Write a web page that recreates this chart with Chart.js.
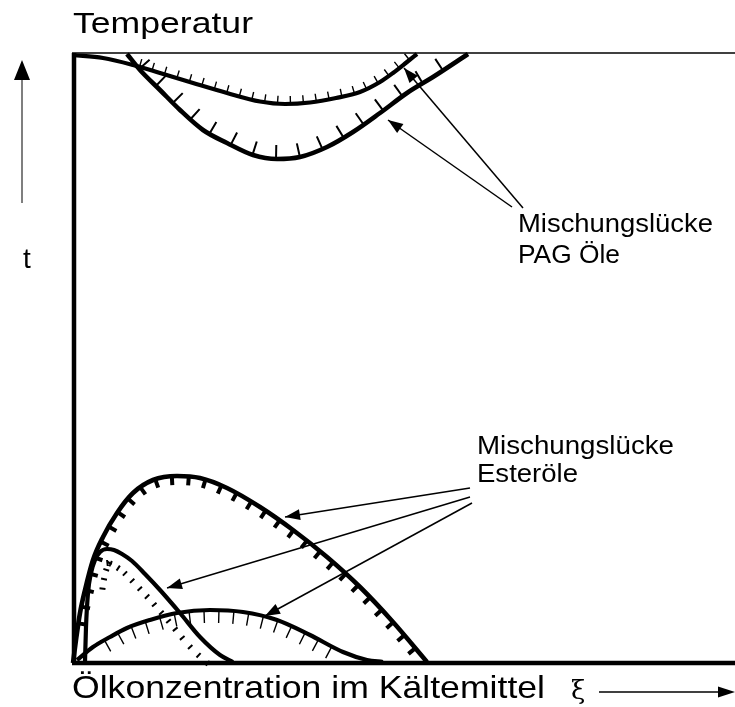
<!DOCTYPE html>
<html><head><meta charset="utf-8">
<script src="https://cdn.jsdelivr.net/npm/chart.js@4/dist/chart.umd.min.js"></script>
<style>html,body{margin:0;padding:0;background:#fff;overflow:hidden}canvas{display:block}</style>
</head><body>
<canvas id="c" width="735" height="707"></canvas>
<script>
// Schematic units: x = oil concentration (0..661), y = temperature (0..610)
const xMax = 661, yMax = 610;

// PAG oils – miscibility gap (upper region)
const pagUpperX = [-1, 29, 59, 86, 119, 153, 186, 211, 236, 262, 286, 306, 319, 333, 343];
const pagUpperY = [608, 605, 598, 590, 580, 570, 561.5, 559, 560.5, 565, 571, 581, 590, 601, 609];
const pagLowerX = [53, 66, 86, 106, 129, 153, 179, 203, 226, 253, 279, 306, 333, 359, 394];
const pagLowerY = [609, 593, 573, 553, 533, 520, 508, 504, 506, 516, 531, 550, 570, 586, 609];

// Ester oils – miscibility gap (lower region)
const esterBigX = [-1, 2, 6, 11, 19, 29, 43, 59, 79, 103, 126, 153, 186, 219, 253, 286, 319, 353];
const esterBigY = [0, 23, 50, 73, 103, 126, 150, 170, 183, 187, 185, 175, 156, 133, 106, 76, 41, 1];
const esterSmallX = [11, 12, 14, 17, 21, 26, 33, 40, 48, 58, 71, 86, 106, 126, 146, 159];
const esterSmallY = [1, 36, 70, 90, 103, 111, 114, 113, 109, 102, 89, 73, 50, 26, 8, 1];
const esterFlatX = [3, 19, 36, 53, 76, 103, 136, 169, 203, 236, 269, 293, 309];
const esterFlatY = [3, 16, 26, 35, 43, 50, 53, 51, 43, 28, 11, 3, 1];

// Annotation arrows [x1, y1, x2(tip), y2(tip)]
const pagArrows = [[449, 455, 330, 595], [438, 456, 314, 543]];
const esterArrows = [[396, 175, 211, 146], [396, 166, 93, 75], [398, 160, 191, 47]];

// Text
const yAxisTitle = "Temperatur";
const yAxisSymbol = "t";
const xAxisTitle = "Ölkonzentration im Kältemittel";
const xAxisSymbol = "ξ";
const pagLabel = ["Mischungslücke", "PAG Öle"];
const esterLabel = ["Mischungslücke", "Esteröle"];

function pts(xs, ys) { return xs.map((x, i) => ({x, y: ys[i]})); }

function curve(xs, ys, width, hatch) {
  return {data: pts(xs, ys), showLine: true, borderColor: '#000', borderWidth: width,
    pointRadius: 0, cubicInterpolationMode: 'monotone', fill: false, clip: false, hatch};
}
function straight(data, width, arrow) {
  return {data, showLine: true, borderColor: '#000', borderWidth: width, pointRadius: 0,
    tension: 0, fill: false, clip: false, arrowHead: arrow};
}

const datasets = [
  straight([{x: 0, y: 0}, {x: 0, y: yMax}], 4.5),
  straight([{x: -2, y: 0}, {x: xMax, y: 0}], 4.5),
  straight([{x: -2, y: yMax}, {x: xMax, y: yMax}], 1.6),
  curve(pagUpperX, pagUpperY, 4.2, {from: 62, to: 340, spacing: 13, len: 8, off: 0, width: 1.4, side: 1, phase: 4}),
  curve(pagLowerX, pagLowerY, 4.6, {from: 60, to: 385, spacing: 24, len: 14, off: 0, width: 2, side: 1, phase: 8}),
  curve(esterBigX, esterBigY, 4.6, {from: 3, to: 345, spacing: 17, len: 9, off: 0, width: 4, side: -1, phase: 10}),
  curve(esterSmallX, esterSmallY, 4.2, {from: 14, to: 150, spacing: 11, len: 6, off: 11, width: 2, side: -1, phase: 6}),
  curve(esterFlatX, esterFlatY, 4.2, {from: 25, to: 258, spacing: 15, len: 13, off: 0, width: 1.4, side: -1, phase: 6}),
];
pagArrows.concat(esterArrows).forEach(a => {
  datasets.push(straight([{x: a[0], y: a[1]}, {x: a[2], y: a[3]}], 1.5, true));
});

function samplePath(elems) {
  const out = [];
  for (let i = 0; i < elems.length - 1; i++) {
    const a = elems[i], b = elems[i + 1];
    const c1x = a.cp2x ?? a.x, c1y = a.cp2y ?? a.y, c2x = b.cp1x ?? b.x, c2y = b.cp1y ?? b.y;
    const n = 30;
    for (let k = 0; k < n; k++) {
      const t = k / n, u = 1 - t;
      out.push({
        x: u*u*u*a.x + 3*u*u*t*c1x + 3*u*t*t*c2x + t*t*t*b.x,
        y: u*u*u*a.y + 3*u*u*t*c1y + 3*u*t*t*c2y + t*t*t*b.y
      });
    }
  }
  const l = elems[elems.length - 1];
  out.push({x: l.x, y: l.y});
  return out;
}

function stretchText(ctx, txt, x, y, size, width, family) {
  ctx.font = size + 'px ' + (family || '"Liberation Sans", Arial, sans-serif');
  const w = ctx.measureText(txt).width;
  ctx.save();
  ctx.translate(x, y);
  if (width) ctx.scale(width / w, 1);
  ctx.fillText(txt, 0, 0);
  ctx.restore();
}

const decor = {
  id: 'decor',
  afterDatasetsDraw(chart) {
    const ctx = chart.ctx, xs = chart.scales.x, ca = chart.chartArea;
    ctx.save();
    ctx.strokeStyle = '#000'; ctx.fillStyle = '#000'; ctx.lineCap = 'butt';
    chart.data.datasets.forEach((ds, di) => {
      const meta = chart.getDatasetMeta(di);
      const el = meta.data;
      if (ds.hatch) {
        const h = ds.hatch;
        const fx = xs.getPixelForValue(h.from), tx = xs.getPixelForValue(h.to);
        const p = samplePath(el);
        let acc = 0, next = h.phase;
        ctx.lineWidth = h.width;
        ctx.beginPath();
        for (let i = 1; i < p.length; i++) {
          const dx = p[i].x - p[i-1].x, dy = p[i].y - p[i-1].y;
          const L = Math.hypot(dx, dy);
          if (L === 0) continue;
          const mx = (p[i].x + p[i-1].x) / 2;
          if (mx < fx || mx > tx) continue;
          while (acc + L >= next) {
            const t = (next - acc) / L;
            const px = p[i-1].x + dx * t, py = p[i-1].y + dy * t;
            const nx = h.side * dy / L, ny = -h.side * dx / L;
            ctx.moveTo(px + nx * h.off, py + ny * h.off);
            ctx.lineTo(px + nx * (h.off + h.len), py + ny * (h.off + h.len));
            next += h.spacing;
          }
          acc += L;
        }
        ctx.stroke();
      }
      if (ds.arrowHead) {
        const a = el[0], b = el[el.length - 1];
        const ang = Math.atan2(b.y - a.y, b.x - a.x);
        const hl = 15, hw = 5.5;
        ctx.beginPath();
        ctx.moveTo(b.x, b.y);
        ctx.lineTo(b.x - hl*Math.cos(ang) + hw*Math.sin(ang), b.y - hl*Math.sin(ang) - hw*Math.cos(ang));
        ctx.lineTo(b.x - hl*Math.cos(ang) - hw*Math.sin(ang), b.y - hl*Math.sin(ang) + hw*Math.cos(ang));
        ctx.closePath();
        ctx.fill();
      }
    });

    // axis direction arrows
    const ax = 22, ayTop = ca.top + 7, ayBot = ca.top + 150;
    ctx.strokeStyle = '#555'; ctx.lineWidth = 1.5;
    ctx.beginPath(); ctx.moveTo(ax, ayBot); ctx.lineTo(ax, ayTop + 10); ctx.stroke();
    ctx.fillStyle = '#000';
    ctx.beginPath(); ctx.moveTo(ax, ayTop); ctx.lineTo(ax - 8, ayTop + 20); ctx.lineTo(ax + 8, ayTop + 20); ctx.closePath(); ctx.fill();

    const by = ca.bottom + 29, bx1 = 599, bx2 = ca.right;
    ctx.strokeStyle = '#000'; ctx.lineWidth = 1.5;
    ctx.beginPath(); ctx.moveTo(bx1, by); ctx.lineTo(bx2 - 10, by); ctx.stroke();
    ctx.beginPath(); ctx.moveTo(bx2, by); ctx.lineTo(bx2 - 17, by - 5.5); ctx.lineTo(bx2 - 17, by + 5.5); ctx.closePath(); ctx.fill();

    // texts
    ctx.fillStyle = '#000'; ctx.textBaseline = 'alphabetic'; ctx.textAlign = 'left';
    stretchText(ctx, yAxisTitle, 73, 33, 29, 180);
    stretchText(ctx, yAxisSymbol, 23, 268, 28, 0);
    stretchText(ctx, pagLabel[0], 518, 232, 25, 195);
    stretchText(ctx, pagLabel[1], 518, 263, 25, 102);
    stretchText(ctx, esterLabel[0], 477, 454, 25, 197);
    stretchText(ctx, esterLabel[1], 477, 482, 25, 101);
    stretchText(ctx, xAxisTitle, 72, 698, 32, 473);
    stretchText(ctx, xAxisSymbol, 571, 699, 26, 0, '"DejaVu Serif", "Liberation Serif", serif');
    ctx.restore();
  }
};

new Chart(document.getElementById('c'), {
  type: 'scatter',
  data: {datasets},
  options: {
    responsive: false, animation: false, events: [],
    layout: {padding: {left: 74, right: 0, top: 53, bottom: 44}},
    plugins: {legend: {display: false}, tooltip: {enabled: false}, title: {display: false}},
    scales: {
      x: {type: 'linear', min: 0, max: xMax, display: false},
      y: {type: 'linear', min: 0, max: yMax, display: false}
    }
  },
  plugins: [decor]
});
</script>
</body></html>
